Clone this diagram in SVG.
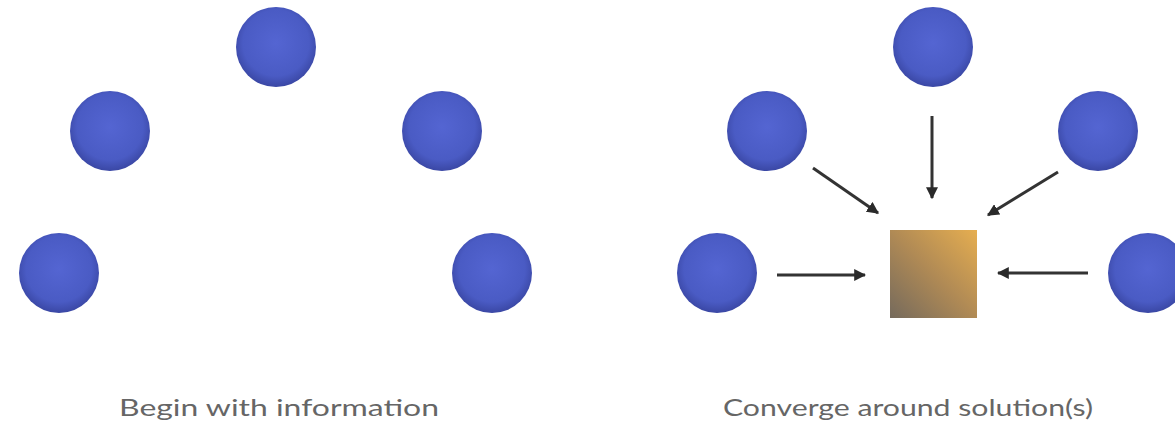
<svg xmlns="http://www.w3.org/2000/svg" width="1175" height="433" viewBox="0 0 1175 433">
  <defs>
    <radialGradient id="ball" cx="50%" cy="45%" r="55%">
      <stop offset="0" stop-color="#5465d2"/>
      <stop offset="0.75" stop-color="#4a5bc4"/>
      <stop offset="1" stop-color="#3a47a4"/>
    </radialGradient>
    <linearGradient id="box" x1="0" y1="1" x2="1" y2="0">
      <stop offset="0" stop-color="#756a5c"/>
      <stop offset="0.5" stop-color="#b08a55"/>
      <stop offset="1" stop-color="#e6ae50"/>
    </linearGradient>
    <marker id="arrow" viewBox="0 0 10 10" refX="9" refY="5" markerWidth="4" markerHeight="4" orient="auto" markerUnits="strokeWidth">
      <path d="M0,0 L10,5 L0,10 z" fill="#2a2a2a"/>
    </marker>
  </defs>
  <style>
    .node { fill: url(#ball); }
    .conn { stroke: #333; stroke-width: 3; fill: none; marker-end: url(#arrow); }
    .label { font-family: "Lato", "Open Sans", "Liberation Sans", sans-serif; font-size: 24px; fill: #666; text-anchor: middle; }
  </style>
  <rect width="1175" height="433" fill="#ffffff"/>

  <!-- Left group -->
  <g id="l-top"><circle class="node" cx="276" cy="47" r="40"/></g>
  <g id="l-midleft"><circle class="node" cx="110" cy="131" r="40"/></g>
  <g id="l-midright"><circle class="node" cx="442" cy="131" r="40"/></g>
  <g id="l-botleft"><circle class="node" cx="59" cy="273" r="40"/></g>
  <g id="l-botright"><circle class="node" cx="492" cy="273" r="40"/></g>
  <g id="l-label"><text class="label" x="279" y="416" textLength="320" lengthAdjust="spacingAndGlyphs">Begin with information</text></g>

  <!-- Right group -->
  <g id="r-top"><circle class="node" cx="933" cy="47" r="40"/></g>
  <g id="r-midleft"><circle class="node" cx="767" cy="131" r="40"/></g>
  <g id="r-midright"><circle class="node" cx="1098" cy="131" r="40"/></g>
  <g id="r-botleft"><circle class="node" cx="717" cy="273" r="40"/></g>
  <g id="r-botright"><circle class="node" cx="1148" cy="273" r="40"/></g>
  <g id="solution"><rect x="890" y="230" width="87" height="88" fill="url(#box)"/></g>
  <g id="r-label"><text class="label" x="908" y="416" textLength="370" lengthAdjust="spacingAndGlyphs">Converge around solution(s)</text></g>

  <g id="connectors">
    <line class="conn" x1="932" y1="116" x2="932" y2="198"/>
    <line class="conn" x1="813" y1="168" x2="878" y2="213"/>
    <line class="conn" x1="1058" y1="172" x2="988" y2="215"/>
    <line class="conn" x1="777" y1="275" x2="865" y2="275"/>
    <line class="conn" x1="1088" y1="273" x2="998" y2="273"/>
  </g>
</svg>
